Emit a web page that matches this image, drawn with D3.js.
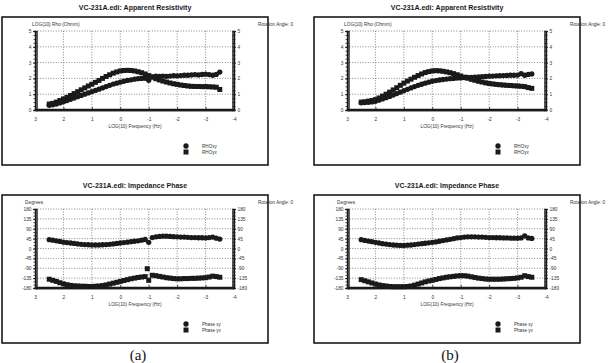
<!DOCTYPE html>
<html>
<head>
<meta charset="utf-8">
<script src="https://cdn.jsdelivr.net/npm/d3@7/dist/d3.min.js"></script>
<style>
    body { margin: 0; background: #fff; }
    svg { display: block; font-family: "Liberation Sans", Arial, sans-serif; }
</style>
</head>
<body>
<svg id="chart" width="616" height="363"></svg>
<script>
// log10 of frequency, 8 per decade
var LOG_FREQ = [2.5, 2.375, 2.25, 2.125, 2.0, 1.875, 1.75, 1.625, 1.5, 1.375, 1.25, 1.125, 1.0,
    0.875, 0.75, 0.625, 0.5, 0.375, 0.25, 0.125, 0, -0.125, -0.25, -0.375, -0.5, -0.625, -0.75,
    -0.875, -1.0, -1.125, -1.25, -1.375, -1.5, -1.625, -1.75, -1.875, -2.0, -2.125, -2.25,
    -2.375, -2.5, -2.625, -2.75, -2.875, -3.0, -3.125, -3.25, -3.375, -3.5];

// (a) raw
var RHO_XY_A = [0.30, 0.33, 0.38, 0.45, 0.52, 0.60, 0.68, 0.76, 0.84, 0.92, 1.00, 1.08, 1.16,
    1.24, 1.32, 1.40, 1.48, 1.56, 1.64, 1.70, 1.76, 1.82, 1.87, 1.91, 1.95, 1.98, 2.00,
    2.01, 1.88, 2.10, 2.14, 2.12, 2.15, 2.13, 2.15, 2.17, 2.16, 2.18, 2.20,
    2.20, 2.22, 2.24, 2.22, 2.25, 2.27, 2.24, 2.20, 2.25, 2.40];
var RHO_YX_A = [0.38, 0.42, 0.50, 0.60, 0.70, 0.80, 0.92, 1.04, 1.16, 1.28, 1.40, 1.52, 1.63,
    1.75, 1.87, 2.00, 2.12, 2.23, 2.33, 2.41, 2.47, 2.50, 2.51, 2.50, 2.47, 2.42, 2.36,
    2.28, 2.18, 2.08, 1.98, 1.90, 1.83, 1.77, 1.71, 1.66, 1.62, 1.58, 1.55,
    1.52, 1.50, 1.49, 1.49, 1.48, 1.48, 1.47, 1.46, 1.44, 1.30];
var PHASE_XY_A = [40, 38, 35, 32, 29, 27, 25, 23, 21, 19, 18, 17, 16,
    16, 16, 17, 18, 19, 21, 23, 25, 27, 29, 31, 33, 35, 38,
    41, 28, 50, 53, 55, 56, 56, 55, 54, 53, 52, 52,
    51, 50, 50, 49, 49, 48, 50, 52, 47, 43];
var PHASE_YX_A = [-140, -145, -150, -156, -161, -165, -168, -170, -171, -172, -172, -173, -173,
    -172, -171, -169, -166, -162, -158, -154, -150, -146, -142, -138, -135, -132, -130,
    -128, -145, -122, -124, -127, -130, -133, -135, -137, -138, -138, -137,
    -137, -136, -136, -135, -134, -133, -130, -126, -128, -131];
// stray yx phase point near 10 Hz
var PHASE_YX_A_STRAY = [[-0.95, -92]];

// (b) edited
var RHO_XY_B = [0.46, 0.47, 0.49, 0.51, 0.55, 0.62, 0.70, 0.78, 0.86, 0.95, 1.04, 1.13, 1.22,
    1.31, 1.40, 1.48, 1.56, 1.63, 1.70, 1.76, 1.82, 1.86, 1.90, 1.93, 1.96, 1.98, 2.00,
    2.02, 2.03, 2.05, 2.06, 2.07, 2.08, 2.10, 2.11, 2.12, 2.14, 2.15, 2.16,
    2.17, 2.18, 2.19, 2.20, 2.20, 2.21, 2.30, 2.20, 2.25, 2.28];
var RHO_YX_B = [0.50, 0.52, 0.56, 0.60, 0.66, 0.76, 0.88, 1.00, 1.13, 1.27, 1.41, 1.56, 1.70,
    1.83, 1.95, 2.07, 2.18, 2.28, 2.37, 2.43, 2.47, 2.49, 2.48, 2.45, 2.41, 2.36, 2.30,
    2.23, 2.15, 2.08, 2.01, 1.94, 1.88, 1.82, 1.77, 1.72, 1.68, 1.65, 1.62,
    1.60, 1.58, 1.56, 1.55, 1.53, 1.52, 1.50, 1.48, 1.42, 1.37];
var PHASE_XY_B = [40, 37, 34, 31, 28, 25, 22, 20, 18, 16, 15, 14, 14,
    15, 16, 18, 20, 22, 24, 26, 28, 30, 33, 36, 39, 42, 45,
    48, 50, 52, 53, 53, 53, 52, 52, 51, 50, 50, 49,
    49, 48, 48, 47, 47, 47, 48, 58, 48, 46];
var PHASE_YX_B = [-142, -147, -152, -157, -162, -166, -169, -171, -173, -174, -174, -174, -174,
    -173, -171, -167, -162, -157, -152, -148, -145, -141, -137, -134, -131, -129, -127,
    -125, -124, -124, -126, -129, -132, -135, -137, -139, -140, -140, -140,
    -140, -139, -138, -137, -136, -134, -131, -124, -128, -131];

var FREQ_TICKS = [3, 2, 1, 0, -1, -2, -3, -4];
var RHO_TICKS = [0, 1, 2, 3, 4, 5];
var PHASE_TICKS = [180, 135, 90, 45, 0, -45, -90, -135, -180];

(function (d3) {
    'use strict';

    var FRAME_W   = 266,
        FRAME_H   = 148,
        PLOT_L    = 33,
        PLOT_R    = 232,
        PLOT_T    = 14,
        PLOT_B    = 93,
        INK       = '#1a1a1a',
        GRID      = '#555';

    var svg = d3.select('#chart');

    // plain hyphen minus, like the original software
    function fmt(v) {
        return String(v);
    }

    function pairs(values) {
        return values.map(function (v, i) { return [LOG_FREQ[i], v]; });
    }

    function drawPanel(o) {
        var g = svg.append('g').attr('transform', 'translate(' + o.x0 + ',' + o.y0 + ')');

        var x = d3.scaleLinear().domain([3, -4]).range([PLOT_L, PLOT_R]),
            y = d3.scaleLinear().domain(o.yDomain).range([PLOT_B, PLOT_T]);

        // title + frame
        svg.append('text')
            .attr('x', o.x0 + FRAME_W / 2).attr('y', o.y0 - 7)
            .attr('text-anchor', 'middle')
            .style('font-size', '7px').style('font-weight', 'bold')
            .attr('fill', INK)
            .text(o.title);
        g.append('rect')
            .attr('x', 0).attr('y', 0)
            .attr('width', FRAME_W).attr('height', FRAME_H)
            .attr('fill', 'none').attr('stroke', INK).attr('stroke-width', 1.6);

        g.append('text')
            .attr('x', 256).attr('y', 9)
            .style('font-size', '4.6px').attr('fill', '#333')
            .text('Rotation Angle: 0');

        // dotted grid
        var grid = g.append('g')
            .attr('stroke', GRID).attr('stroke-width', 0.7)
            .attr('stroke-dasharray', '1,1.6');
        grid.selectAll('line.v')
            .data(FREQ_TICKS.slice(1, -1))
            .enter().append('line')
            .attr('x1', x).attr('x2', x)
            .attr('y1', PLOT_T).attr('y2', PLOT_B);
        grid.selectAll('line.h')
            .data(o.yTicks.filter(function (t) { return t !== o.yDomain[0]; }))
            .enter().append('line')
            .attr('y1', y).attr('y2', y)
            .attr('x1', PLOT_L).attr('x2', PLOT_R);

        // axes
        var minorX = [];
        FREQ_TICKS.slice(0, -1).forEach(function (t) {
            d3.range(2, 10).forEach(function (k) { minorX.push(t - 1 + Math.log10(k)); });
        });

        g.append('g')
            .attr('transform', 'translate(0,' + PLOT_B + ')')
            .call(d3.axisBottom(x).tickValues(FREQ_TICKS).tickSize(0).tickPadding(8)
                .tickFormat(fmt));
        g.append('g')
            .attr('transform', 'translate(0,' + (PLOT_B - 1) + ')')
            .call(d3.axisBottom(x).tickValues(minorX).tickSize(2).tickFormat(''));
        g.append('g')
            .attr('transform', 'translate(0,' + PLOT_B + ')')
            .call(d3.axisBottom(x).tickValues(FREQ_TICKS).tickSizeInner(-3).tickSizeOuter(0)
                .tickFormat(''));

        var minorY = d3.range(o.yDomain[0], o.yDomain[1] + 1e-6, o.minorStep);
        g.append('g')
            .attr('transform', 'translate(' + PLOT_L + ',0)')
            .call(d3.axisLeft(y).tickValues(o.yTicks).tickSizeInner(2).tickSizeOuter(0)
                .tickPadding(1.5).tickFormat(fmt));
        g.append('g')
            .attr('transform', 'translate(' + (PLOT_L + 1.5) + ',0)')
            .call(d3.axisLeft(y).tickValues(minorY).tickSize(3).tickFormat(''));
        g.append('g')
            .attr('transform', 'translate(' + PLOT_R + ',0)')
            .call(d3.axisRight(y).tickValues(o.yTicks).tickSizeInner(2).tickSizeOuter(0)
                .tickPadding(1.5).tickFormat(fmt));
        g.append('g')
            .attr('transform', 'translate(' + (PLOT_R - 1.5) + ',0)')
            .call(d3.axisRight(y).tickValues(minorY).tickSize(3).tickFormat(''));

        g.selectAll('.domain').attr('stroke', INK).attr('stroke-width', 1.4);
        g.selectAll('.tick line').attr('stroke', INK).attr('stroke-width', 0.8);
        g.selectAll('.tick text').style('font-size', '4.8px').attr('fill', '#333')
            .style('font-family', '"Liberation Sans", Arial, sans-serif');

        // axis captions
        g.append('text')
            .attr('x', o.yLabelX).attr('y', 9)
            .style('font-size', '4.8px').attr('fill', '#333')
            .text(o.yLabel);
        g.append('text')
            .attr('x', FRAME_W / 2).attr('y', 111)
            .attr('text-anchor', 'middle')
            .style('font-size', '4.8px').attr('fill', '#333')
            .text('LOG(10) Frequency (Hz)');

        // data marks
        var circle = d3.symbol().type(d3.symbolCircle).size(22),
            square = d3.symbol().type(d3.symbolSquare).size(25);

        o.series.forEach(function (s) {
            g.append('g').selectAll('path')
                .data(s.points)
                .enter().append('path')
                .attr('transform', function (d) {
                    return 'translate(' + x(d[0]) + ',' + y(d[1]) + ')';
                })
                .attr('d', s.symbol === 'circle' ? circle : square)
                .attr('fill', INK);
        });

        // legend
        var legend = g.append('g').attr('transform', 'translate(184,129)');
        o.series.forEach(function (s, i) {
            legend.append('path')
                .attr('transform', 'translate(0,' + (i * 6) + ')')
                .attr('d', s.symbol === 'circle' ? circle : square)
                .attr('fill', INK);
            legend.append('text')
                .attr('x', 16).attr('y', i * 6 + 1.6)
                .style('font-size', '4.6px').attr('fill', '#333')
                .text(s.name);
        });
    }

    function buildPanels(x0, caption, rhoXy, rhoYx, phXy, phYx, phYxStray) {
        drawPanel({
            x0: x0, y0: 17,
            title: 'VC-231A.edi: Apparent Resistivity',
            yLabel: 'LOG(10) Rho (Ohmm)', yLabelX: 30,
            yDomain: [0, 5], yTicks: RHO_TICKS, minorStep: 0.25,
            series: [
                { name: 'RHOxy', symbol: 'circle', points: pairs(rhoXy) },
                { name: 'RHOyx', symbol: 'square', points: pairs(rhoYx) }
            ]
        });
        drawPanel({
            x0: x0, y0: 195,
            title: 'VC-231A.edi: Impedance Phase',
            yLabel: 'Degrees', yLabelX: 23,
            yDomain: [-180, 180], yTicks: PHASE_TICKS, minorStep: 15,
            series: [
                { name: 'Phase xy', symbol: 'circle', points: pairs(phXy) },
                { name: 'Phase yx', symbol: 'square', points: pairs(phYx).concat(phYxStray) }
            ]
        });
        svg.append('text')
            .attr('x', x0 + 136).attr('y', 360)
            .attr('text-anchor', 'middle')
            .style('font-family', '"Liberation Serif", "Times New Roman", serif')
            .style('font-size', '15px').attr('fill', '#111')
            .text(caption);
    }

    buildPanels(2, '(a)', RHO_XY_A, RHO_YX_A, PHASE_XY_A, PHASE_YX_A, PHASE_YX_A_STRAY);
    buildPanels(314, '(b)', RHO_XY_B, RHO_YX_B, PHASE_XY_B, PHASE_YX_B, []);
})(d3);
</script>
</body>
</html>
